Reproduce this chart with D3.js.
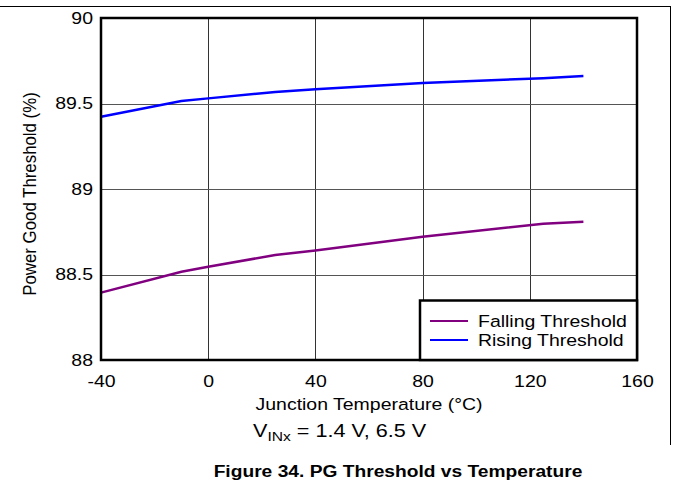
<!DOCTYPE html>
<html><head><meta charset="utf-8">
<script src="https://cdn.jsdelivr.net/npm/d3@7"></script>
<style>
html,body{margin:0;padding:0;background:#fff;}
svg{display:block;font-family:Arial,"Liberation Sans",sans-serif;}
</style></head>
<body>
<svg id="c" width="673" height="487"></svg>
<script>
const temps = [-40, -10, 0, 25, 40, 80, 125, 140];
const falling = [88.394, 88.516, 88.545, 88.614, 88.641, 88.721, 88.797, 88.808];
const rising = [89.423, 89.515, 89.530, 89.567, 89.583, 89.620, 89.648, 89.661];
const xTicks = [-40, 0, 40, 80, 120, 160];
const yTicks = [88, 88.5, 89, 89.5, 90];
const seriesNames = ["Falling Threshold", "Rising Threshold"];
const seriesColors = ["#800080", "#0000ff"];

const FONT = "Arial, 'Liberation Sans', sans-serif";
const SX = 1.18;
const svg = d3.select("#c");
const L = 101, R = 637, T = 18, B = 360;
const x = d3.scaleLinear().domain([-40, 160]).range([L, R]);
const y = d3.scaleLinear().domain([88, 90]).range([B, T]);

function stretch(sel, sx) {
  sel.each(function () {
    const t = d3.select(this);
    const xv = +(t.attr("x") || 0);
    t.attr("x", xv / sx).attr("transform", `scale(${sx},1)`);
  });
}
function label(px, py, txt, size, anchor, sx, bold) {
  const g = svg.append("g").attr("transform", `translate(${px},${py}) scale(${sx},1)`);
  const t = g.append("text").attr("font-size", size).attr("text-anchor", anchor || "start").text(txt);
  if (bold) t.attr("font-weight", "bold");
  return g;
}

// outer frame lines
svg.append("line").attr("x1", 0).attr("x2", 671).attr("y1", 6.5).attr("y2", 6.5).attr("stroke", "#000").attr("stroke-width", 1);
svg.append("line").attr("x1", 670.5).attr("x2", 670.5).attr("y1", 6).attr("y2", 445).attr("stroke", "#000").attr("stroke-width", 1);

// grid
svg.append("g").selectAll("line").data(xTicks.slice(1, -1)).join("line")
  .attr("x1", d => Math.round(x(d)) + 0.5).attr("x2", d => Math.round(x(d)) + 0.5)
  .attr("y1", T).attr("y2", B).attr("stroke", "#333").attr("stroke-width", 1);
svg.append("g").selectAll("line").data(yTicks.slice(1, -1)).join("line")
  .attr("y1", d => Math.round(y(d)) + 0.5).attr("y2", d => Math.round(y(d)) + 0.5)
  .attr("x1", L).attr("x2", R).attr("stroke", "#555").attr("stroke-width", 1);

// axes (labels only)
const xAxis = svg.append("g").attr("transform", `translate(0,${B})`)
  .call(d3.axisBottom(x).tickValues(xTicks).tickSize(0).tickPadding(15).tickFormat(d => d < 0 ? "-" + Math.abs(d) : String(d)));
xAxis.select(".domain").remove();
xAxis.selectAll("text").attr("font-size", 16.5).attr("fill", "#000").attr("font-family", FONT).call(stretch, SX);
const yAxis = svg.append("g").attr("transform", `translate(${L},0)`)
  .call(d3.axisLeft(y).tickValues(yTicks).tickSize(0).tickPadding(8).tickFormat(d => d % 1 === 0 ? d3.format("d")(d) : d3.format(".1f")(d)));
yAxis.select(".domain").remove();
yAxis.selectAll("text").attr("font-size", 16.5).attr("fill", "#000").attr("font-family", FONT).call(stretch, SX);

// lines
const line = d3.line().x((d, i) => x(temps[i])).y(d => y(d));
[falling, rising].forEach((s, k) => {
  svg.append("path").datum(s).attr("d", line).attr("fill", "none")
    .attr("stroke", seriesColors[k]).attr("stroke-width", 2.5);
});

// plot border
svg.append("rect").attr("x", L).attr("y", T).attr("width", R - L).attr("height", B - T)
  .attr("fill", "none").attr("stroke", "#000").attr("stroke-width", 2.5);

// legend
const lg = svg.append("g");
lg.append("rect").attr("x", 420).attr("y", 300.5).attr("width", R - 420).attr("height", B - 300.5)
  .attr("fill", "#fff").attr("stroke", "#000").attr("stroke-width", 2.5);
seriesNames.forEach((n, k) => {
  const yy = 321 + k * 19;
  lg.append("line").attr("x1", 430).attr("x2", 468).attr("y1", yy).attr("y2", yy)
    .attr("stroke", seriesColors[k]).attr("stroke-width", 2);
  label(478, yy + 6, n, 16.5, "start", SX);
});

// axis titles
label((L + R) / 2, 410, "Junction Temperature (°C)", 16.5, "middle", SX);
svg.append("text").attr("transform", `translate(36,194) rotate(-90) scale(1.02,1.1)`)
  .attr("text-anchor", "middle").attr("font-size", 16.5).text("Power Good Threshold (%)");

const vg = svg.append("g").attr("transform", `translate(253,437) scale(1.2,1)`);
const v = vg.append("text").attr("font-size", 18);
v.append("tspan").text("V");
v.append("tspan").attr("font-size", 13).attr("dy", 4).text("INx");
v.append("tspan").attr("dy", -4).text(" = 1.4 V, 6.5 V");

label(398, 477, "Figure 34. PG Threshold vs Temperature", 17, "middle", 1.13, true);
</script>
</body></html>
